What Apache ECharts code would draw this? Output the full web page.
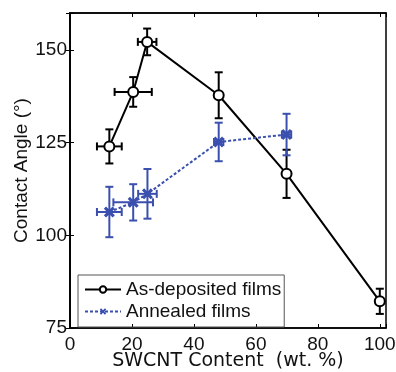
<!DOCTYPE html>
<html>
<head>
<meta charset="utf-8">
<script src="https://cdn.jsdelivr.net/npm/echarts@6/dist/echarts.min.js"></script>
<style>
  html, body { margin: 0; padding: 0; background: #fff; }
  #chart { width: 396px; height: 372px; }
</style>
</head>
<body>
<div id="chart"></div>
<script>
// as-deposited films
var xDep = [12.7, 20.4, 24.9, 48, 69.9, 100];
var yDep = [124, 138.7, 152.2, 137.8, 116.6, 82.2];
var xErrDep = [4, 6, 3, 0, 0, 0];
var yErrDep = [4.6, 4, 3.6, 6.2, 6.5, 3.4];
// annealed films
var xAnn = [12.7, 20.4, 25, 48, 69.9];
var yAnn = [106.3, 108.9, 111.2, 125.2, 127.2];
var xErrAnn = [4, 6.4, 3, 1.5, 1.5];
var yErrAnn = [6.8, 4.9, 6.7, 5.2, 5.6];

var BLUE = '#3a4fae';
var FONT = 'Liberation Sans';

function pairs(xs, ys) {
    return xs.map(function (x, i) { return [x, ys[i]]; });
}
function errRows(xs, ys, xe, ye) {
    return xs.map(function (x, i) { return [x, ys[i], xe[i], ye[i]]; });
}

// draws the vertical and horizontal error bars with caps
function errorBars(color) {
    return function (params, api) {
        var x = api.value(0), y = api.value(1), dx = api.value(2), dy = api.value(3);
        var cap = 4;
        var st = { stroke: color, lineWidth: 2 };
        var kids = [];
        var top = api.coord([x, y + dy]), bot = api.coord([x, y - dy]);
        kids.push({ type: 'line', shape: { x1: top[0], y1: top[1], x2: bot[0], y2: bot[1] }, style: st });
        kids.push({ type: 'line', shape: { x1: top[0] - cap, y1: top[1], x2: top[0] + cap, y2: top[1] }, style: st });
        kids.push({ type: 'line', shape: { x1: bot[0] - cap, y1: bot[1], x2: bot[0] + cap, y2: bot[1] }, style: st });
        if (dx > 0) {
            var l = api.coord([x - dx, y]), r = api.coord([x + dx, y]);
            kids.push({ type: 'line', shape: { x1: l[0], y1: l[1], x2: r[0], y2: r[1] }, style: st });
            kids.push({ type: 'line', shape: { x1: l[0], y1: l[1] - cap, x2: l[0], y2: l[1] + cap }, style: st });
            kids.push({ type: 'line', shape: { x1: r[0], y1: r[1] - cap, x2: r[0], y2: r[1] + cap }, style: st });
        }
        return { type: 'group', children: kids };
    };
}

var xMark = 'path://M0,2L2,0L5,3L8,0L10,2L7,5L10,8L8,10L5,7L2,10L0,8L3,5Z';

var chart = echarts.init(document.getElementById('chart'));
var tick = { show: true, inside: true, length: 4, lineStyle: { color: '#000', width: 1 } };
var option = {
    animation: false,
    textStyle: { fontFamily: FONT },
    grid: { left: 70, right: 10, top: 13, bottom: 44, outerBoundsMode: 'none',
        show: true, borderColor: '#000', borderWidth: 1.5 },
    legend: {
        left: 78, top: 275, orient: 'vertical',
        borderColor: '#555', borderWidth: 1, padding: [5, 3, 6, 6],
        itemGap: 3, itemWidth: 36, itemHeight: 8,
        textStyle: { fontSize: 19, color: '#111', fontFamily: FONT },
        data: ['As-deposited films', 'Annealed films']
    },
    xAxis: [{
        type: 'value', min: 0, max: 102, interval: 20,
        name: 'SWCNT Content  (wt. %)', nameLocation: 'middle', nameGap: 24, nameMoveOverlap: false,
        nameTextStyle: { fontSize: 19, color: '#111', fontFamily: 'DejaVu Sans' },
        axisLine: { lineStyle: { color: '#000', width: 1.5 } },
        axisTick: tick,
        axisLabel: { fontSize: 19, color: '#111', margin: 7,
            formatter: function (v) { return v % 20 === 0 ? v : ''; } },
        splitLine: { show: false }
    }, {
        type: 'value', min: 0, max: 102, interval: 20, position: 'top',
        axisLine: { lineStyle: { color: '#000', width: 1.5 } },
        axisTick: tick, axisLabel: { show: false }, splitLine: { show: false }
    }],
    yAxis: [{
        type: 'value', min: 75, max: 160, interval: 25,
        name: 'Contact Angle (°)', nameLocation: 'middle', nameGap: 39, nameMoveOverlap: false,
        nameTextStyle: { fontSize: 19, color: '#111' },
        axisLine: { show: true, lineStyle: { color: '#000', width: 1.5 } },
        axisTick: tick,
        axisLabel: { fontSize: 19, color: '#111', margin: 3,
            formatter: function (v) { return v % 25 === 0 ? v : ''; } },
        splitLine: { show: false }
    }, {
        type: 'value', min: 75, max: 160, interval: 25, position: 'right',
        axisLine: { show: true, lineStyle: { color: '#000', width: 1.5 } },
        axisTick: tick, axisLabel: { show: false }, splitLine: { show: false }
    }],
    series: [{
        name: 'As-deposited films', type: 'line', data: pairs(xDep, yDep),
        symbol: 'circle', symbolSize: 10, z: 3,
        lineStyle: { color: '#000', width: 2 },
        itemStyle: { color: '#fff', borderColor: '#000', borderWidth: 2 }
    }, {
        name: 'Annealed films', type: 'line', data: pairs(xAnn, yAnn),
        symbol: xMark, symbolSize: 11, z: 3,
        lineStyle: { color: BLUE, width: 2, type: [3, 2] },
        itemStyle: { color: BLUE }
    }, {
        type: 'custom', renderItem: errorBars('#000'), z: 2,
        data: errRows(xDep, yDep, xErrDep, yErrDep), encode: { x: 0, y: 1 }
    }, {
        type: 'custom', renderItem: errorBars(BLUE), z: 2,
        data: errRows(xAnn, yAnn, xErrAnn, yErrAnn), encode: { x: 0, y: 1 }
    }]
};
chart.setOption(option);
</script>
</body>
</html>
